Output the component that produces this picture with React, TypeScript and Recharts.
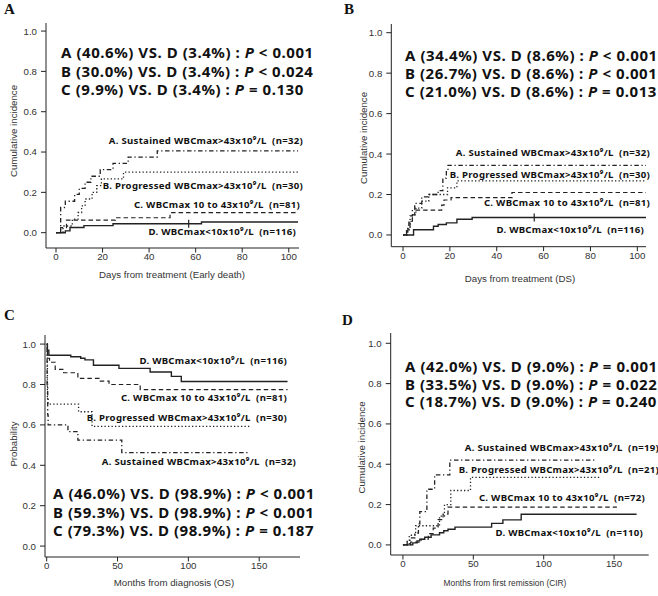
import React from 'react'
import { ComposedChart, Line, Scatter, XAxis, YAxis } from 'recharts'

type Pt = { x: number; y: number }

// Panel A - early death (days)
const edSustained: Pt[] = [
  { x: 0, y: 0 }, { x: 2, y: 0.125 }, { x: 4, y: 0.156 }, { x: 8, y: 0.19 }, { x: 10, y: 0.22 },
  { x: 12.5, y: 0.25 }, { x: 15, y: 0.28 }, { x: 19, y: 0.313 }, { x: 24.5, y: 0.344 },
  { x: 31, y: 0.375 }, { x: 43.5, y: 0.406 }, { x: 104, y: 0.406 },
]
const edProgressed: Pt[] = [
  { x: 0, y: 0 }, { x: 3, y: 0.033 }, { x: 7, y: 0.067 }, { x: 9.5, y: 0.1 }, { x: 11, y: 0.133 },
  { x: 12.5, y: 0.167 }, { x: 15.5, y: 0.2 }, { x: 17.5, y: 0.233 }, { x: 19.5, y: 0.267 },
  { x: 29, y: 0.3 }, { x: 104, y: 0.3 },
]
const edMid: Pt[] = [
  { x: 0, y: 0 }, { x: 2, y: 0.025 }, { x: 4.5, y: 0.062 }, { x: 25.5, y: 0.074 },
  { x: 49, y: 0.099 }, { x: 104, y: 0.099 },
]
const edLow: Pt[] = [
  { x: 0, y: 0 }, { x: 4, y: 0.009 }, { x: 6, y: 0.026 }, { x: 12, y: 0.035 },
  { x: 24.5, y: 0.044 }, { x: 62.5, y: 0.053 }, { x: 104, y: 0.053 },
]
const edCensor: Pt[] = [{ x: 57, y: 0.044 }]

// Panel B - DS (days)
const dsSustained: Pt[] = [
  { x: 0, y: 0 }, { x: 1.5, y: 0.03 }, { x: 2.5, y: 0.063 }, { x: 3, y: 0.094 }, { x: 4, y: 0.125 },
  { x: 5, y: 0.156 }, { x: 8, y: 0.188 }, { x: 11, y: 0.2 }, { x: 15, y: 0.219 },
  { x: 17, y: 0.281 }, { x: 18.5, y: 0.313 }, { x: 19.2, y: 0.344 }, { x: 104, y: 0.344 },
]
const dsProgressed: Pt[] = [
  { x: 0, y: 0 }, { x: 2, y: 0.033 }, { x: 3, y: 0.067 }, { x: 4, y: 0.1 }, { x: 5.5, y: 0.133 },
  { x: 8, y: 0.167 }, { x: 11, y: 0.2 }, { x: 19, y: 0.233 }, { x: 23, y: 0.267 }, { x: 104, y: 0.267 },
]
const dsMid: Pt[] = [
  { x: 0, y: 0 }, { x: 2, y: 0.025 }, { x: 3, y: 0.062 }, { x: 4, y: 0.099 }, { x: 5, y: 0.123 },
  { x: 16.5, y: 0.148 }, { x: 17.5, y: 0.173 }, { x: 20.5, y: 0.185 }, { x: 46.5, y: 0.21 },
  { x: 104, y: 0.21 },
]
const dsLow: Pt[] = [
  { x: 0, y: 0 }, { x: 4.5, y: 0.026 }, { x: 13, y: 0.043 }, { x: 15, y: 0.052 },
  { x: 18.5, y: 0.06 }, { x: 23, y: 0.078 }, { x: 29.5, y: 0.086 }, { x: 104, y: 0.086 },
]
const dsCensor: Pt[] = [{ x: 56, y: 0.086 }]

// Panel C - OS (months)
const osSustained: Pt[] = [
  { x: 0, y: 1 }, { x: 0.3, y: 0.8 }, { x: 0.7, y: 0.65 }, { x: 1, y: 0.6 }, { x: 15, y: 0.567 },
  { x: 22, y: 0.525 }, { x: 53, y: 0.463 }, { x: 142, y: 0.463 },
]
const osProgressed: Pt[] = [
  { x: 0, y: 1 }, { x: 0.5, y: 0.74 }, { x: 1, y: 0.703 }, { x: 22.5, y: 0.665 },
  { x: 32, y: 0.593 }, { x: 143, y: 0.593 },
]
const osMid: Pt[] = [
  { x: 0, y: 1 }, { x: 0.5, y: 0.93 }, { x: 2, y: 0.91 }, { x: 6, y: 0.875 }, { x: 12, y: 0.858 },
  { x: 22, y: 0.83 }, { x: 37, y: 0.817 }, { x: 44, y: 0.8 }, { x: 66, y: 0.775 }, { x: 170, y: 0.775 },
]
const osLow: Pt[] = [
  { x: 0, y: 1 }, { x: 0.5, y: 0.97 }, { x: 1.5, y: 0.945 }, { x: 17, y: 0.937 }, { x: 24, y: 0.93 },
  { x: 27, y: 0.922 }, { x: 33, y: 0.895 }, { x: 51, y: 0.88 }, { x: 73, y: 0.862 },
  { x: 88, y: 0.84 }, { x: 95, y: 0.815 }, { x: 170, y: 0.815 },
]

// Panel D - CIR (months)
const cirSustained: Pt[] = [
  { x: 0, y: 0 }, { x: 3, y: 0.017 }, { x: 5, y: 0.035 }, { x: 8.5, y: 0.058 }, { x: 11, y: 0.105 },
  { x: 12, y: 0.165 }, { x: 17, y: 0.276 }, { x: 22.5, y: 0.347 }, { x: 33.3, y: 0.421 },
  { x: 137, y: 0.421 },
]
const cirProgressed: Pt[] = [
  { x: 0, y: 0 }, { x: 4.5, y: 0.048 }, { x: 9, y: 0.095 }, { x: 26, y: 0.143 },
  { x: 29.5, y: 0.2 }, { x: 34, y: 0.27 }, { x: 48, y: 0.335 }, { x: 140, y: 0.335 },
]
const cirMid: Pt[] = [
  { x: 0, y: 0 }, { x: 5.5, y: 0.014 }, { x: 13, y: 0.028 }, { x: 18, y: 0.056 }, { x: 21.5, y: 0.083 },
  { x: 25, y: 0.125 }, { x: 28.5, y: 0.153 }, { x: 32, y: 0.187 }, { x: 152, y: 0.187 },
]
const cirLow: Pt[] = [
  { x: 0, y: 0 }, { x: 7, y: 0.01 }, { x: 10, y: 0.02 }, { x: 12, y: 0.028 }, { x: 15.5, y: 0.038 },
  { x: 20, y: 0.05 }, { x: 26, y: 0.06 }, { x: 29, y: 0.07 }, { x: 32, y: 0.078 }, { x: 37, y: 0.088 },
  { x: 63, y: 0.107 }, { x: 71, y: 0.124 }, { x: 84, y: 0.152 }, { x: 166, y: 0.152 },
]

// comparison lines: [prefix, operator, p value]
const edStats = [
  ['A (40.6%) VS. D (3.4%) : ', '<', '0.001'],
  ['B (30.0%) VS. D (3.4%) : ', '<', '0.024'],
  ['C (9.9%) VS. D (3.4%) : ', '=', '0.130'],
]
const dsStats = [
  ['A (34.4%) VS. D (8.6%) : ', '<', '0.001'],
  ['B (26.7%) VS. D (8.6%) : ', '<', '0.001'],
  ['C (21.0%) VS. D (8.6%) : ', '=', '0.013'],
]
const osStats = [
  ['A (46.0%) VS. D (98.9%) : ', '<', '0.001'],
  ['B (59.3%) VS. D (98.9%) : ', '<', '0.001'],
  ['C (79.3%) VS. D (98.9%) : ', '=', '0.187'],
]
const cirStats = [
  ['A (42.0%) VS. D (9.0%) : ', '=', '0.001'],
  ['B (33.5%) VS. D (9.0%) : ', '=', '0.022'],
  ['C (18.7%) VS. D (9.0%) : ', '=', '0.240'],
]

const yTicks = [0, 0.2, 0.4, 0.6, 0.8, 1.0]
const dayTicks = [0, 20, 40, 60, 80, 100]
const monthTicks = [0, 50, 100, 150]

const INK = '#222'
const DASHDOT = '1.3 2.6 4.5 2.6'
const DOTTED = '1.3 2.2'
const DASHED = '4.5 3'

const YW = 40 // y axis box width
const XH = 30 // x axis box height

const CensorMark = (p: any) => (
  <line x1={p.cx} x2={p.cx} y1={p.cy - 4} y2={p.cy + 4} stroke={INK} strokeWidth={1.2} />
)

// plot: [left, top, right, bottom] of the plot box inside the 329x298 cell
function Panel({ left, top, plot, xDomain, yDomain, xTicks, sets, censor }: any) {
  const tickStyle = { fontSize: 9.7, fill: '#333', fontFamily: '"Liberation Sans", Arial, sans-serif' }
  const margin = { left: plot[0] - YW, top: plot[1], right: 329 - plot[2], bottom: 298 - plot[3] - XH }
  return (
    <div style={{ position: 'absolute', left, top }}>
      <ComposedChart width={329} height={298} margin={margin}>
        <XAxis type="number" dataKey="x" domain={xDomain} ticks={xTicks} allowDataOverflow
          height={XH} tickSize={4.5} tickMargin={1} stroke={INK} tick={tickStyle} />
        <YAxis type="number" dataKey="y" domain={yDomain} ticks={yTicks} allowDataOverflow
          width={YW} tickSize={5} tickMargin={4} stroke={INK} tick={tickStyle}
          tickFormatter={(v: number) => v.toFixed(1)} />
        {sets.map((s: any, i: number) => (
          <Line key={i} data={s.data} dataKey="y" type="stepAfter" stroke={INK}
            strokeWidth={s.w} strokeDasharray={s.dash} dot={false} isAnimationActive={false} />
        ))}
        {censor && <Scatter data={censor} dataKey="y" shape={CensorMark} isAnimationActive={false} />}
      </ComposedChart>
    </div>
  )
}

const statFont = { fontFamily: '"Noto Sans", "Open Sans", sans-serif', fontWeight: 700, fontSize: 15, letterSpacing: 0.55, fill: '#111' }
const labFont = { fontFamily: '"Noto Sans", "Open Sans", sans-serif', fontWeight: 700, fontSize: 9.6, letterSpacing: 0.28, fill: '#111' }
const axFont = { fontFamily: '"Liberation Sans", Arial, sans-serif', fontSize: 9.7, fill: '#333' }
const letterFont = { fontFamily: '"Liberation Serif", "Times New Roman", serif', fontWeight: 700, fontSize: 15, fill: '#111' }

// three stacked comparison lines as one text block
function Stats({ x, y, gap, rows }: { x: number; y: number; gap: number; rows: string[][] }) {
  return (
    <text x={x} y={y} style={statFont}>
      {rows.map((r, i) => (
        <tspan key={i} x={x} dy={i === 0 ? 0 : gap}>
          {r[0]}<tspan fontStyle="italic">P</tspan>{` ${r[1]} ${r[2]}`}
        </tspan>
      ))}
    </text>
  )
}

function Lab({ x, y, t, n }: { x: number; y: number; t: string; n: string }) {
  return (
    <text x={x} y={y} textAnchor="end" style={labFont}>
      {`${t}x10\u2079/L\u00a0 (n=${n})`}
    </text>
  )
}

export default function App() {
  return (
    <div style={{ position: 'absolute', left: 0, top: 0, width: 658, height: 596, background: '#fff', overflow: 'hidden' }}>
      <Panel left={0} top={0} plot={[46, 23, 299, 248]}
        xDomain={[-4.3, 104.4]} yDomain={[-0.076, 1.04]} xTicks={dayTicks}
        sets={[
          { data: edSustained, dash: DASHDOT, w: 1.3 },
          { data: edProgressed, dash: DOTTED, w: 1.3 },
          { data: edMid, dash: DASHED, w: 1.2 },
          { data: edLow, dash: undefined, w: 1.4 },
        ]} censor={edCensor} />
      <Panel left={329} top={0} plot={[62.3, 24, 317, 246.7]}
        xDomain={[-5, 103.7]} yDomain={[-0.058, 1.043]} xTicks={dayTicks}
        sets={[
          { data: dsSustained, dash: DASHDOT, w: 1.3 },
          { data: dsProgressed, dash: DOTTED, w: 1.3 },
          { data: dsMid, dash: DASHED, w: 1.2 },
          { data: dsLow, dash: undefined, w: 1.4 },
        ]} censor={dsCensor} />
      <Panel left={0} top={298} plot={[45, 37, 300, 259]}
        xDomain={[-1.2, 178.8]} yDomain={[-0.054, 1.045]} xTicks={monthTicks}
        sets={[
          { data: osSustained, dash: DASHDOT, w: 1.3 },
          { data: osProgressed, dash: DOTTED, w: 1.3 },
          { data: osMid, dash: DASHED, w: 1.2 },
          { data: osLow, dash: undefined, w: 1.4 },
        ]} />
      <Panel left={329} top={298} plot={[61.7, 35, 319.7, 257]}
        xDomain={[-8.7, 174.6]} yDomain={[-0.05, 1.051]} xTicks={monthTicks}
        sets={[
          { data: cirSustained, dash: DASHDOT, w: 1.3 },
          { data: cirProgressed, dash: DOTTED, w: 1.3 },
          { data: cirMid, dash: DASHED, w: 1.2 },
          { data: cirLow, dash: undefined, w: 1.4 },
        ]} />

      <svg width={658} height={596} style={{ position: 'absolute', left: 0, top: 0, pointerEvents: 'none' }}>
        <text x={4} y={14} style={letterFont}>A</text>
        <text x={344} y={14} style={letterFont}>B</text>
        <text x={4} y={320} style={letterFont}>C</text>
        <text x={342} y={325} style={letterFont}>D</text>

        <Stats x={61} y={58.3} gap={18.35} rows={edStats} />
        <Stats x={405} y={61.3} gap={17.85} rows={dsStats} />
        <Stats x={53} y={499} gap={18.5} rows={osStats} />
        <Stats x={405} y={372} gap={17.5} rows={cirStats} />

        <Lab x={303} y={143.5} t="A. Sustained WBCmax>43" n="32" />
        <Lab x={303} y={188.5} t="B. Progressed WBCmax>43" n="30" />
        <Lab x={300} y={207.5} t="C. WBCmax 10 to 43" n="81" />
        <Lab x={296} y={234.5} t="D. WBCmax<10" n="116" />

        <Lab x={650} y={155.5} t="A. Sustained WBCmax>43" n="32" />
        <Lab x={650} y={177.5} t="B. Progressed WBCmax>43" n="30" />
        <Lab x={650} y={205.5} t="C. WBCmax 10 to 43" n="81" />
        <Lab x={644} y={232.5} t="D. WBCmax<10" n="116" />

        <Lab x={287} y={364} t="D. WBCmax<10" n="116" />
        <Lab x={287} y={400.5} t="C. WBCmax 10 to 43" n="81" />
        <Lab x={287} y={420.5} t="B. Progressed WBCmax>43" n="30" />
        <Lab x={296} y={465} t="A. Sustained WBCmax>43" n="32" />

        <Lab x={659} y={450.5} t="A. Sustained WBCmax>43" n="19" />
        <Lab x={659} y={472.5} t="B. Progressed WBCmax>43" n="21" />
        <Lab x={645} y={500.5} t="C. WBCmax 10 to 43" n="72" />
        <Lab x={643} y={535.5} t="D. WBCmax<10" n="110" />

        <text x={172} y={277.5} textAnchor="middle" style={axFont}>Days from treatment (Early death)</text>
        <text x={520} y={281.8} textAnchor="middle" style={axFont}>Days from treatment (DS)</text>
        <text x={174} y={586} textAnchor="middle" style={axFont}>Months from diagnosis (OS)</text>
        <text x={505} y={586} textAnchor="middle" style={{ ...axFont, fontSize: 8.4 }}>Months from first remission (CIR)</text>

        <text x={0} y={0} textAnchor="middle" style={axFont} transform="translate(16.5,131) rotate(-90)">Cumulative incidence</text>
        <text x={0} y={0} textAnchor="middle" style={axFont} transform="translate(366.5,138) rotate(-90)">Cumulative incidence</text>
        <text x={0} y={0} textAnchor="middle" style={axFont} transform="translate(16.5,444) rotate(-90)">Probability</text>
        <text x={0} y={0} textAnchor="middle" style={axFont} transform="translate(364.5,447.5) rotate(-90)">Cumulative incidence</text>
      </svg>
    </div>
  )
}
